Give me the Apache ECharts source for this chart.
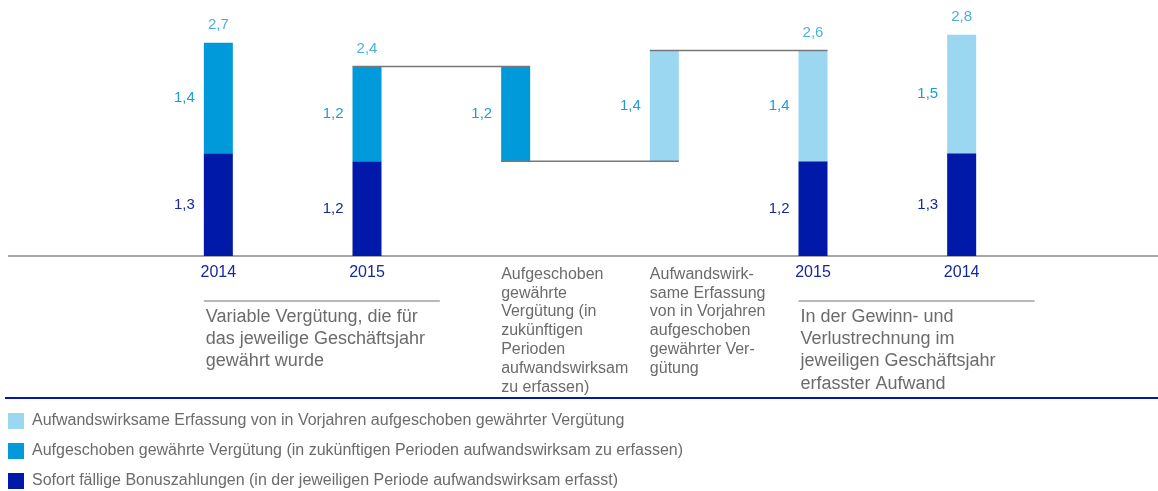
<!DOCTYPE html>
<html>
<head>
<meta charset="utf-8">
<script src="https://cdn.jsdelivr.net/npm/echarts@6/dist/echarts.min.js"></script>
<style>
  html, body { margin: 0; padding: 0; background: #fff; }
  #chart { width: 1158px; height: 491px; }
</style>
</head>
<body>
<div id="chart"></div>
<script>
// Kategorien (Achsenbeschriftung)
const categories = [
  '2014',
  '2015',
  'Aufgeschoben\ngewährte\nVergütung (in\nzukünftigen\nPerioden\naufwandswirksam\nzu erfassen)',
  'Aufwandswirk-\nsame Erfassung\nvon in Vorjahren\naufgeschoben\ngewährter Ver-\ngütung',
  '2015',
  '2014'
];

// Werte in Mio.
const sofort = [1.3, 1.2, null, null, 1.2, 1.3];
const aufgeschoben = [1.4, 1.2, 1.2, null, null, null];
const erfassung = [null, null, null, 1.4, 1.4, 1.5];
const basis = [null, null, 1.2, 1.2, null, null];   // unsichtbarer Sockel
const summen = [2.7, 2.4, null, null, 2.6, 2.8];
// Verbindungslinien: von Kategorie, bis Kategorie, Wert
const bruecken = [[1, 2, 2.4], [2, 3, 1.2], [3, 4, 2.6]];

const names = {
  erfassung: 'Aufwandswirksame Erfassung von in Vorjahren aufgeschoben gewährter Vergütung',
  aufgeschoben: 'Aufgeschoben gewährte Vergütung (in zukünftigen Perioden aufwandswirksam zu erfassen)',
  sofort: 'Sofort fällige Bonuszahlungen (in der jeweiligen Periode aufwandswirksam erfasst)'
};

const gruppen = [
  { text: 'Variable Vergütung, die für\ndas jeweilige Geschäftsjahr\ngewährt wurde', from: 0, to: 1 },
  { text: 'In der Gewinn- und\nVerlustrechnung im\njeweiligen Geschäftsjahr\nerfasster Aufwand', from: 4, to: 5 }
];

const FONT = '"Liberation Sans", Arial, sans-serif';
const NAVY = '#0019a8';
const MID = '#009ada';
const LIGHT = '#9bd7f1';
const LABEL_BLUE = '#1e9bd7';
const GREY = '#6b6b6b';
const BAR_W = 29;

function fmt(v) {
  return v.toFixed(1).replace('.', ',');
}

function segLabel(color) {
  return {
    show: true,
    position: 'left',
    distance: 9,
    color: color,
    fontSize: 15,
    fontFamily: FONT,
    formatter: (p) => fmt(p.value)
  };
}

let chart = echarts.init(document.getElementById('chart'), null, { renderer: 'canvas' });

let option = {
  animation: false,
  textStyle: { fontFamily: FONT },
  grid: { left: 144, right: 122, top: 19, bottom: 235 },
  legend: {
    orient: 'vertical',
    left: 8,
    top: 413,
    padding: 0,
    itemWidth: 16,
    itemHeight: 16,
    itemGap: 14,
    icon: 'rect',
    data: [names.erfassung, names.aufgeschoben, names.sofort],
    textStyle: { fontSize: 16, color: GREY, fontFamily: FONT, padding: [0, 0, 0, 3] }
  },
  xAxis: {
    type: 'category',
    data: categories,
    axisLine: { show: false },
    axisTick: { show: false },
    axisLabel: {
      margin: 9,
      fontSize: 16,
      color: '#1428a0',
      fontFamily: FONT,
      formatter: (v) => v.indexOf('\n') < 0 ? v : ''
    }
  },
  yAxis: {
    type: 'value',
    min: 0,
    max: 3,
    show: false,
    splitLine: { show: false }
  },
  series: [
    {
      type: 'bar',
      stack: 'total',
      barWidth: BAR_W,
      silent: true,
      itemStyle: { color: 'transparent' },
      data: basis
    },
    {
      name: names.sofort,
      type: 'bar',
      stack: 'total',
      barWidth: BAR_W,
      itemStyle: { color: NAVY },
      label: segLabel('#1428a0'),
      data: sofort
    },
    {
      name: names.aufgeschoben,
      type: 'bar',
      stack: 'total',
      barWidth: BAR_W,
      itemStyle: { color: MID },
      label: segLabel(LABEL_BLUE),
      data: aufgeschoben
    },
    {
      name: names.erfassung,
      type: 'bar',
      stack: 'total',
      barWidth: BAR_W,
      itemStyle: { color: LIGHT },
      label: segLabel(LABEL_BLUE),
      data: erfassung
    },
    {
      type: 'scatter',
      symbolSize: 1,
      silent: true,
      itemStyle: { color: 'transparent' },
      label: {
        show: true,
        position: 'top',
        distance: 10,
        color: LABEL_BLUE,
        fontSize: 15,
        fontFamily: FONT,
        formatter: (p) => fmt(p.value)
      },
      data: summen
    },
    {
      type: 'custom',
      z: 5,
      silent: true,
      encode: { x: [0, 1], y: 2 },
      renderItem: (params, api) => {
        let p1 = api.coord([api.value(0), api.value(2)]);
        let p2 = api.coord([api.value(1), api.value(2)]);
        return {
          type: 'line',
          shape: { x1: p1[0] - BAR_W / 2, y1: p1[1], x2: p2[0] + BAR_W / 2, y2: p2[1] },
          style: { stroke: '#777777', lineWidth: 1.5 }
        };
      },
      data: bruecken
    }
  ]
};

chart.setOption(option);

// Beschriftungen und Linien relativ zur Achse
let y0 = chart.convertToPixel({ yAxisIndex: 0 }, 0);
let cx = (i) => chart.convertToPixel({ xAxisIndex: 0 }, i);
let catW = cx(1) - cx(0);
let graphics = [];

graphics.push({
  type: 'line', silent: true,
  shape: { x1: 8, y1: y0, x2: 1158, y2: y0 },
  style: { stroke: '#a6a6a6', lineWidth: 2 }
});
graphics.push({
  type: 'line', silent: true,
  shape: { x1: 5, y1: y0 + 142, x2: 1158, y2: y0 + 142 },
  style: { stroke: NAVY, lineWidth: 2 }
});

categories.forEach((c, i) => {
  if (c.indexOf('\n') < 0) return;
  graphics.push({
    type: 'text', silent: true,
    x: cx(i) - BAR_W / 2,
    y: y0 + 9,
    style: {
      text: c,
      fill: GREY,
      font: '16px ' + FONT,
      lineHeight: 18.8,
      align: 'left',
      verticalAlign: 'top'
    }
  });
});

gruppen.forEach((g) => {
  let x1 = cx(g.from) - BAR_W / 2;
  let x2 = cx(g.to) + catW * 0.49;
  graphics.push({
    type: 'line', silent: true,
    shape: { x1: x1, y1: y0 + 45, x2: x2, y2: y0 + 45 },
    style: { stroke: '#a0a0a0', lineWidth: 1.5 }
  });
  graphics.push({
    type: 'text', silent: true,
    x: x1 + 2,
    y: y0 + 49.5,
    style: {
      text: g.text,
      fill: GREY,
      font: '18px ' + FONT,
      lineHeight: 22.4,
      align: 'left',
      verticalAlign: 'top'
    }
  });
});

chart.setOption({ graphic: graphics });
</script>
</body>
</html>
